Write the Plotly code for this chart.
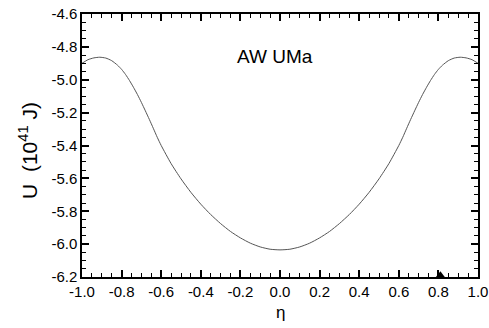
import plotly.graph_objects as go

eta_half = [-1.0, -0.97, -0.94, -0.91, -0.88, -0.85, -0.82, -0.80, -0.78, -0.76, -0.74, -0.72,
            -0.70, -0.68, -0.66, -0.64, -0.62, -0.60, -0.55, -0.50, -0.45, -0.40, -0.35,
            -0.30, -0.25, -0.20, -0.15, -0.10, -0.05, 0.0]
U_half = [-4.900, -4.878, -4.867, -4.863, -4.868, -4.884, -4.912, -4.937, -4.968, -5.005, -5.046, -5.090,
          -5.138, -5.189, -5.241, -5.295, -5.350, -5.400, -5.510, -5.603, -5.685, -5.757, -5.820,
          -5.875, -5.923, -5.962, -5.994, -6.017, -6.031, -6.035]
eta_right = [0.05, 0.10, 0.15, 0.20, 0.25, 0.30, 0.35, 0.40, 0.45, 0.50, 0.55, 0.60, 0.62, 0.64,
             0.66, 0.68, 0.70, 0.72, 0.74, 0.76, 0.78, 0.80, 0.82, 0.85, 0.88, 0.91, 0.94, 0.97, 1.0]
U_right = [-6.031, -6.017, -5.994, -5.962, -5.923, -5.875, -5.820, -5.757, -5.685, -5.603, -5.510, -5.400,
           -5.350, -5.295, -5.241, -5.189, -5.138, -5.090, -5.046, -5.005, -4.968, -4.937, -4.912,
           -4.884, -4.868, -4.863, -4.867, -4.878, -4.900]
eta = eta_half + eta_right
U = U_half + U_right

marker_eta = [0.81]
marker_U = [-6.19]

x_ticks = [-1.0, -0.8, -0.6, -0.4, -0.2, 0.0, 0.2, 0.4, 0.6, 0.8, 1.0]
x_labels = ["-1.0", "-0.8", "-0.6", "-0.4", "-0.2", "0.0", "0.2", "0.4", "0.6", "0.8", "1.0"]
y_ticks = [-4.6, -4.8, -5.0, -5.2, -5.4, -5.6, -5.8, -6.0, -6.2]
y_labels = ["-4.6", "-4.8", "-5.0", "-5.2", "-5.4", "-5.6", "-5.8", "-6.0", "-6.2"]

fig = go.Figure()
fig.add_trace(go.Scatter(x=eta, y=U, mode="lines",
                         line=dict(color="#555555", width=1, shape="spline", smoothing=0.6),
                         showlegend=False))
fig.add_trace(go.Scatter(x=marker_eta, y=marker_U, mode="markers",
                         marker=dict(symbol="triangle-up", size=8, color="black"),
                         cliponaxis=False, showlegend=False))

font = "Liberation Sans, Arial, sans-serif"
axis_common = dict(showline=True, linecolor="black", linewidth=1.5, mirror="allticks",
                   ticks="inside", ticklen=7, tickwidth=1.6, tickcolor="black",
                   showgrid=False, zeroline=False, automargin=False,
                   tickfont=dict(family=font, size=15, color="black"))

fig.update_xaxes(range=[-1.0, 1.0], tickvals=x_ticks, ticktext=x_labels,
                 minor=dict(dtick=0.05, ticks="inside", ticklen=4, tickwidth=1.3, tickcolor="black"),
                 **axis_common)
fig.update_yaxes(range=[-6.2, -4.6], tickvals=y_ticks, ticktext=y_labels,
                 minor=dict(dtick=0.05, ticks="inside", ticklen=4, tickwidth=1.3, tickcolor="black"),
                 **axis_common)

fig.add_annotation(xref="paper", yref="paper", x=0.5, y=-0.135, xanchor="center", yanchor="middle",
                   text="η", showarrow=False,
                   font=dict(family=font, size=17, color="black"))
fig.add_annotation(xref="paper", yref="paper", x=-0.136, y=0.48, xanchor="center", yanchor="middle",
                   text="U  (10<sup>41</sup> J)", textangle=-90, showarrow=False,
                   font=dict(family=font, size=21, color="black"))
fig.add_annotation(x=-0.025, y=-4.858, text="AW UMa", showarrow=False,
                   font=dict(family=font, size=19, color="black"))

fig.update_layout(width=489, height=328, margin=dict(l=82, r=11, t=14, b=51),
                  paper_bgcolor="white", plot_bgcolor="white")

fig.write_html("out.html")
